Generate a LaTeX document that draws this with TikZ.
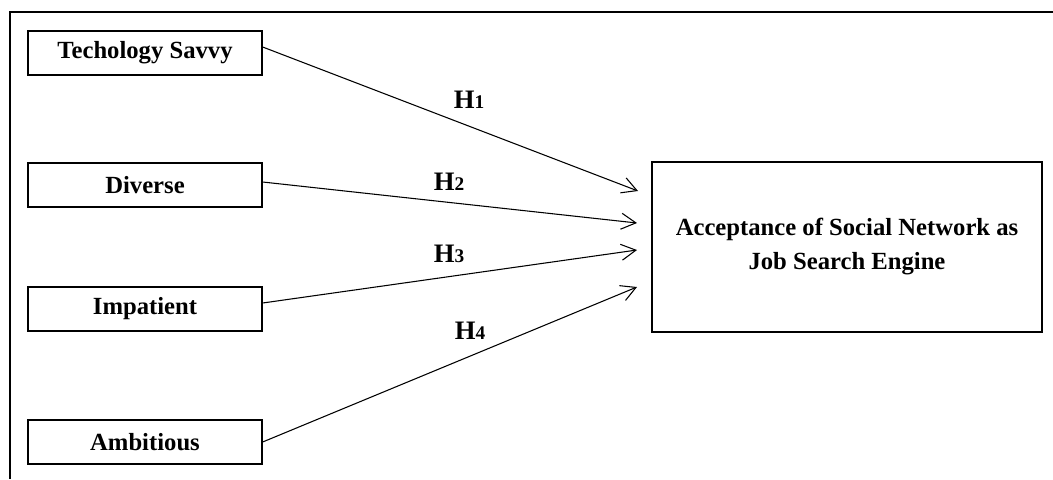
\documentclass[tikz,border=0pt]{standalone}
\usepackage{fontspec}
\setmainfont{Liberation Serif}
\usetikzlibrary{arrows.meta}

\newcommand{\hlabel}[1]{H{\fontsize{14.5}{16}\selectfont #1}}

\tikzset{
  factor/.style={draw, line width=1pt, minimum width=175.5pt, minimum height=33pt, inner sep=0pt,
    font=\bfseries\fontsize{18.5}{25}\selectfont},
  outcome/.style={draw, line width=1pt, minimum width=292.5pt, minimum height=127.5pt, inner sep=0pt,
    align=center, font=\bfseries\fontsize{18.5}{25.5}\selectfont},
  hyp/.style={inner sep=0pt, font=\bfseries\fontsize{20}{22}\selectfont},
  link/.style={line width=0.8pt, -{Straight Barb[length=11pt,width=12pt]}}
}

\begin{document}
\begin{tikzpicture}[x=0.75pt, y=-0.75pt]
				\useasboundingbox (0,0) rectangle (1053,479);
				% frame
				\draw[line width=1.5pt] (1053,12) -- (10,12) -- (10,479);
				% factors
				\node[factor] (ts) at (145,53) {Techology Savvy};
				\node[factor] (dv) at (145,185) {Diverse};
				\node[factor] (im) at (145,309) {Impatient};
				\node[factor] (am) at (145,442) {Ambitious};
				% outcome
				\node[outcome] (acc) at (847,247) {Acceptance of Social Network as\\Job Search Engine};
				% arrow ends
				\coordinate (e1) at (638,191);
				\coordinate (e2) at (637,223);
				\coordinate (e3) at (637,250);
				\coordinate (e4) at (637,287);
				\draw[link] ([yshift=4.5pt]ts.east) -- (e1);
				\draw[link] ([yshift=2.25pt]dv.east) -- (e2);
				\draw[link] ([yshift=4.5pt]im.east) -- (e3);
				\draw[link] (am.east) -- (e4);
				% hypotheses
				\node[hyp] (h1) at (469,100) {\hlabel{1}};
				\node[hyp] (h2) at (449,182) {\hlabel{2}};
				\node[hyp] (h3) at (449,254) {\hlabel{3}};
				\node[hyp] (h4) at (470,331) {\hlabel{4}};
			\end{tikzpicture}
\end{document}
